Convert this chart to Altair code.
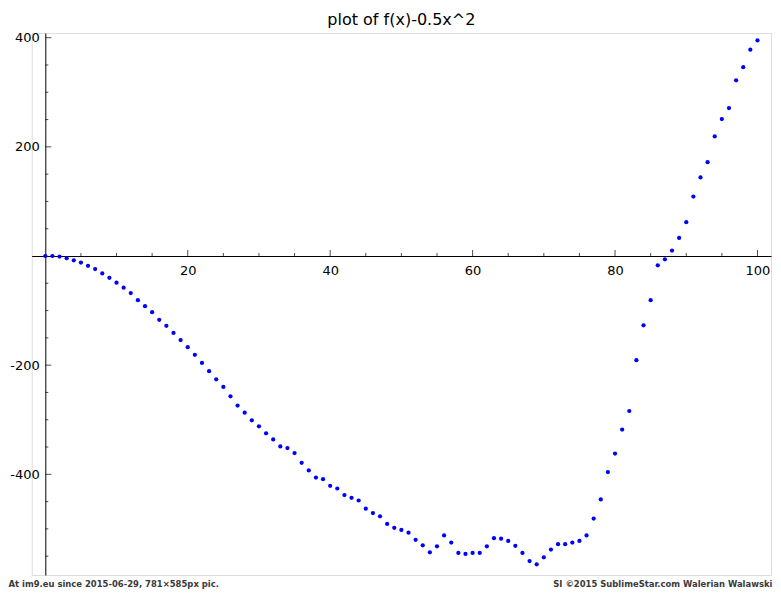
import altair as alt
import pandas as pd

# ---- data ----
x_vals = list(range(0, 101))
y_vals = [
    0, 0, -1, -4, -8, -12, -18, -24, -32, -40,
    -49, -58, -68, -81, -92, -103, -117, -128, -141, -154,
    -167, -181, -196, -211, -226, -240, -257, -274, -287, -301,
    -312, -325, -336, -349, -352, -361, -379, -393, -406, -409,
    -421, -426, -438, -443, -448, -463, -471, -477, -491, -498,
    -502, -507, -520, -530, -543, -532, -512, -525, -544, -546,
    -544, -544, -532, -517, -518, -522, -531, -544, -559, -565,
    -552, -538, -528, -528, -525, -522, -512, -481, -446, -396,
    -362, -318, -284, -191, -127, -81, -17, -6, 10, 33,
    62, 109, 144, 172, 219, 251, 271, 322, 346, 378,
    395,
]
x_major = [20, 40, 60, 80, 100]
x_minor = [5, 10, 15, 25, 30, 35, 45, 50, 55, 65, 70, 75, 85, 90, 95]
y_major = [-400, -200, 200, 400]
y_minor = [-550, -500, -450, -350, -300, -250, -150, -100, -50,
           50, 100, 150, 250, 300, 350]
title_text = "plot of f(x)-0.5x^2"
footer_left = "At im9.eu since 2015-06-29, 781\u00d7585px pic."
footer_right = "SI \u00a92015 SublimeStar.com Walerian Walawski"

# ---- layout constants ----
PW, PH = 739.3, 542
X_DOM = [-1.91, 101.9]
Y_DOM = [-584.5, 408.6]
FONT = "DejaVu Sans"
FOOT_FONT = "DejaVu Sans Condensed, Liberation Sans Narrow, Roboto, sans-serif"

pts = pd.DataFrame({"x": x_vals, "y": y_vals})
xmaj = pd.DataFrame({"x": x_major, "y": [0] * len(x_major)})
xmin_ = pd.DataFrame({"x": x_minor, "y": [0] * len(x_minor)})
ymaj = pd.DataFrame({"x": [0] * len(y_major), "y": y_major})
ymin_ = pd.DataFrame({"x": [0] * len(y_minor), "y": y_minor})
ttl = pd.DataFrame({"t": [title_text]})
foot = pd.DataFrame({"t": [footer_left]})
foot2 = pd.DataFrame({"t": [footer_right]})

X = alt.X(
    "x:Q",
    scale=alt.Scale(domain=X_DOM, nice=False, zero=False),
    axis=alt.Axis(
        orient="bottom", offset=-319, values=x_major, ticks=False,
        labelPadding=8, labelFontSize=13, labelFont=FONT, labelColor="black",
        labelFlush=False, labelOverlap=False, grid=False, title=None,
        domainColor="black", domainWidth=1, labelExpr="datum.value + ''",
    ),
)
Y = alt.Y(
    "y:Q",
    scale=alt.Scale(domain=Y_DOM, nice=False, zero=False),
    axis=alt.Axis(
        orient="left", offset=-13.6, values=y_major, ticks=False,
        labelPadding=6, labelFontSize=13, labelFont=FONT, labelColor="black",
        labelFlush=False, labelOverlap=False, grid=False, title=None,
        domainColor="black", domainWidth=1, labelExpr="datum.value + ''",
    ),
)

points = alt.Chart(pts).mark_circle(size=18, color="#0000ff", opacity=1).encode(x=X, y=Y)
tx_major = alt.Chart(xmaj).mark_tick(orient="vertical", size=6, thickness=1, color="black", yOffset=-3).encode(x=X, y=Y)
tx_minor = alt.Chart(xmin_).mark_tick(orient="vertical", size=3, thickness=1, color="black", yOffset=-1.5).encode(x=X, y=Y)
ty_major = alt.Chart(ymaj).mark_tick(orient="horizontal", size=6, thickness=1, color="black", xOffset=3).encode(x=X, y=Y)
ty_minor = alt.Chart(ymin_).mark_tick(orient="horizontal", size=3, thickness=1, color="black", xOffset=1.5).encode(x=X, y=Y)

title_mark = alt.Chart(ttl).mark_text(
    align="center", baseline="alphabetic", font=FONT, fontSize=16, color="black",
).encode(text="t:N", x=alt.value(PW / 2), y=alt.value(-8))

f_left = alt.Chart(foot).mark_text(
    align="left", baseline="alphabetic", font=FOOT_FONT,
    fontWeight="bold", fontSize=9.4, color="#3a3a3a",
).encode(text="t:N", x=alt.value(-23.2), y=alt.value(554))
f_right = alt.Chart(foot2).mark_text(
    align="right", baseline="alphabetic", font=FOOT_FONT,
    fontWeight="bold", fontSize=9.4, color="#3a3a3a",
).encode(text="t:N", x=alt.value(740.8), y=alt.value(554))

chart = alt.layer(
    tx_minor, tx_major, ty_minor, ty_major, points, title_mark, f_left, f_right
).properties(
    width=PW, height=PH,
    autosize=alt.AutoSizeParams(type="none"),
    padding={"left": 23.7, "top": 25, "right": 2, "bottom": 14},
).configure_view(stroke=None).configure(background="white")

chart.save("out.html", embed_options={"renderer": "svg", "actions": False})
